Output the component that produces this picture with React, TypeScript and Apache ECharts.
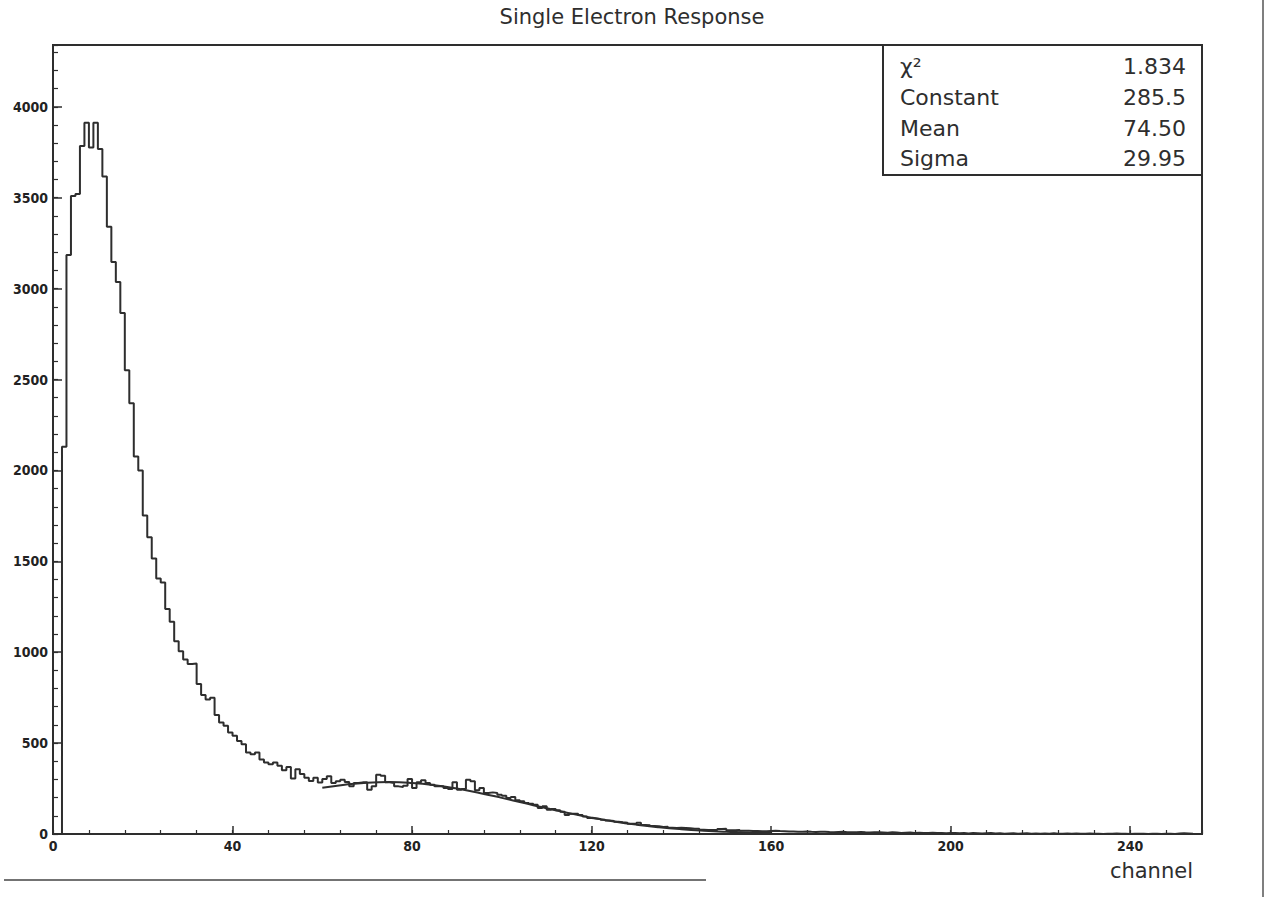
import React, { useEffect, useRef } from "react";
import * as echarts from "echarts";

const chartTitle = "Single Electron Response";
const xAxisName = "channel";
const X_MAX = 256;
const Y_MAX = 4340;

// bin contents, channel 0..39
const countsPeak = [
  0, 0, 2130, 3185, 3510, 3520, 3785, 3913, 3776, 3913,
  3768, 3616, 3340, 3146, 3037, 2866, 2551, 2369, 2077, 2000,
  1752, 1632, 1515, 1406, 1384, 1237, 1168, 1060, 1005, 960,
  935, 938, 825, 765, 740, 750, 655, 613, 595, 558,
];
// channel 40..79
const countsShoulder = [
  540, 512, 494, 448, 439, 448, 410, 393, 383, 393,
  375, 350, 368, 305, 356, 330, 310, 292, 310, 283,
  303, 317, 281, 290, 299, 286, 262, 281, 284, 284,
  244, 262, 326, 321, 284, 281, 262, 259, 266, 303,
];
// channel 80..129
const countsBump = [
  253, 284, 295, 281, 271, 262, 262, 253, 248, 284,
  244, 248, 299, 290, 240, 253, 226, 229, 226, 216,
  211, 198, 204, 185, 180, 171, 167, 161, 143, 152,
  134, 138, 130, 122, 104, 112, 112, 104, 96, 88,
  85, 82, 78, 74, 71, 67, 64, 62, 57, 57,
];
// channel 130..179
const countsFall = [
  62, 50, 48, 44, 42, 39, 40, 35, 33, 35,
  33, 31, 29, 29, 24, 22, 22, 22, 28, 29,
  20, 20, 22, 18, 18, 16, 16, 15, 15, 17,
  18, 16, 15, 14, 14, 13, 12, 14, 12, 11,
  12, 13, 11, 10, 11, 12, 10, 9, 10, 11,
];
// channel 180..255
const countsTail = [
  9, 8, 10, 9, 8, 7, 9, 8, 6, 7,
  8, 6, 7, 5, 6, 7, 5, 6, 4, 5,
  6, 4, 5, 3, 5, 4, 3, 4, 5, 3,
  4, 2, 3, 4, 2, 3, 4, 2, 3, 1,
  3, 2, 4, 2, 1, 3, 2, 3, 1, 2,
  3, 1, 2, 0, 2, 1, 3, 1, 2, 0,
  1, 2, 1, 0, 2, 1, 0, 1, 2, 0,
  3, 4, 3, 1, 0, 0,
];

// Gaussian fit curve (Constant 285.5, Mean 74.50, Sigma 29.95), read at 5-channel steps
const fitChannels = [60, 65, 70, 75, 80, 85, 90, 95, 100, 105, 110, 115, 120, 125, 130, 135, 140, 145, 150, 155, 160];
const fitValues = [253.9, 271.5, 282.3, 285.5, 280.7, 268.5, 249.7, 225.9, 198.7, 170.0, 141.4, 114.4, 90.0, 68.9, 51.3, 37.1, 26.1, 17.9, 11.9, 7.7, 4.9];

const statNames = ["χ²", "Constant", "Mean", "Sigma"];
const statValues = ["1.834", "285.5", "74.50", "29.95"];

const FONT = "DejaVu Sans, Verdana, sans-serif";
const TICK_FONT = "'Liberation Sans Narrow', 'DejaVu Sans Condensed', sans-serif";
const INK = "#2e2e2e";

export default function App() {
  const ref = useRef<HTMLDivElement>(null);

  useEffect(() => {
    if (!ref.current) return;
    const chart = echarts.init(ref.current, null, { renderer: "svg" });

    const counts = [...countsPeak, ...countsShoulder, ...countsBump, ...countsFall, ...countsTail];
    const histData: number[][] = counts.map((v, i) => [i, v]);
    histData.push([counts.length, counts[counts.length - 1]]);
    const fitData = fitChannels.map((c, i) => [c, fitValues[i]]);

    const boxLeft = 883;
    const boxTop = 45;
    const boxW = 319;
    const boxH = 130;
    const rowY = [66, 97, 128, 158];

    const statTexts: any[] = [];
    statNames.forEach((n, i) => {
      statTexts.push({
        type: "text",
        x: 900,
        y: rowY[i],
        style: { text: n, fill: INK, font: `22px ${FONT}`, textAlign: "left", align: "left", textVerticalAlign: "middle", verticalAlign: "middle" },
      });
      statTexts.push({
        type: "text",
        x: 1186,
        y: rowY[i],
        style: { text: statValues[i], fill: INK, font: `22px ${FONT}`, textAlign: "right", align: "right", textVerticalAlign: "middle", verticalAlign: "middle" },
      });
    });

    const axisLabelStyle = { color: "#222", fontFamily: TICK_FONT, fontSize: 14, fontWeight: "bold" as const };

    chart.setOption({
      animation: false,
      backgroundColor: "#ffffff",
      grid: {
        left: 53,
        top: 45,
        width: 1149,
        height: 789,
        show: true,
        borderColor: INK,
        borderWidth: 2,
        backgroundColor: "transparent",
      },
      xAxis: [
        {
          type: "value",
          min: 0,
          max: X_MAX,
          interval: 40,
          position: "bottom",
          axisLine: { show: true, lineStyle: { color: INK, width: 2 } },
          axisTick: { show: true, inside: true, length: 8, lineStyle: { color: INK, width: 1.5 } },
          axisLabel: { ...axisLabelStyle, margin: 5, showMaxLabel: false, formatter: (v: number) => String(v) },
          splitLine: { show: false },
        },
        {
          type: "value",
          min: 0,
          max: X_MAX,
          interval: 8,
          position: "bottom",
          axisLine: { show: false },
          axisTick: { show: true, inside: true, length: 4, lineStyle: { color: INK, width: 1.2 } },
          axisLabel: { show: false },
          splitLine: { show: false },
        },
      ],
      yAxis: [
        {
          type: "value",
          min: 0,
          max: Y_MAX,
          interval: 500,
          position: "left",
          axisLine: { show: true, lineStyle: { color: INK, width: 2 } },
          axisTick: { show: true, inside: true, length: 9, lineStyle: { color: INK, width: 1.5 } },
          axisLabel: { ...axisLabelStyle, margin: 5, showMaxLabel: false, formatter: (v: number) => String(v) },
          splitLine: { show: false },
        },
        {
          type: "value",
          min: 0,
          max: Y_MAX,
          interval: 100,
          position: "left",
          axisLine: { show: false },
          axisTick: { show: true, inside: true, length: 5, lineStyle: { color: INK, width: 1.2 } },
          axisLabel: { show: false },
          splitLine: { show: false },
        },
      ],
      series: [
        {
          name: "histogram",
          type: "line",
          step: "end",
          data: histData,
          symbol: "none",
          lineStyle: { color: INK, width: 2 },
          xAxisIndex: 0,
          yAxisIndex: 0,
          z: 3,
        },
        {
          name: "fit",
          type: "line",
          smooth: true,
          data: fitData,
          symbol: "none",
          lineStyle: { color: INK, width: 2 },
          xAxisIndex: 0,
          yAxisIndex: 0,
          z: 4,
        },
      ],
      graphic: [
        {
          type: "text",
          x: 632,
          y: 17,
          style: { text: chartTitle, fill: INK, font: `21px ${FONT}`, textAlign: "center", align: "center", textVerticalAlign: "middle", verticalAlign: "middle" },
        },
        {
          type: "text",
          x: 1193,
          y: 871,
          style: { text: xAxisName, fill: INK, font: `21px ${FONT}`, textAlign: "right", align: "right", textVerticalAlign: "middle", verticalAlign: "middle" },
        },
        {
          type: "rect",
          shape: { x: boxLeft, y: boxTop, width: boxW, height: boxH },
          style: { fill: "#ffffff", stroke: INK, lineWidth: 2 },
          z: 10,
        },
        ...statTexts.map((t) => ({ ...t, z: 11 })),
        {
          type: "line",
          shape: { x1: 4, y1: 880, x2: 706, y2: 880 },
          style: { stroke: "#444", lineWidth: 1.5 },
        },
        {
          type: "line",
          shape: { x1: 1263, y1: 0, x2: 1263, y2: 897 },
          style: { stroke: "#555", lineWidth: 1.5 },
        },
      ],
    });

    return () => chart.dispose();
  }, []);

  return (
    <div
      ref={ref}
      style={{ position: "fixed", left: 0, top: 0, width: 1268, height: 897, background: "#fff" }}
    />
  );
}
